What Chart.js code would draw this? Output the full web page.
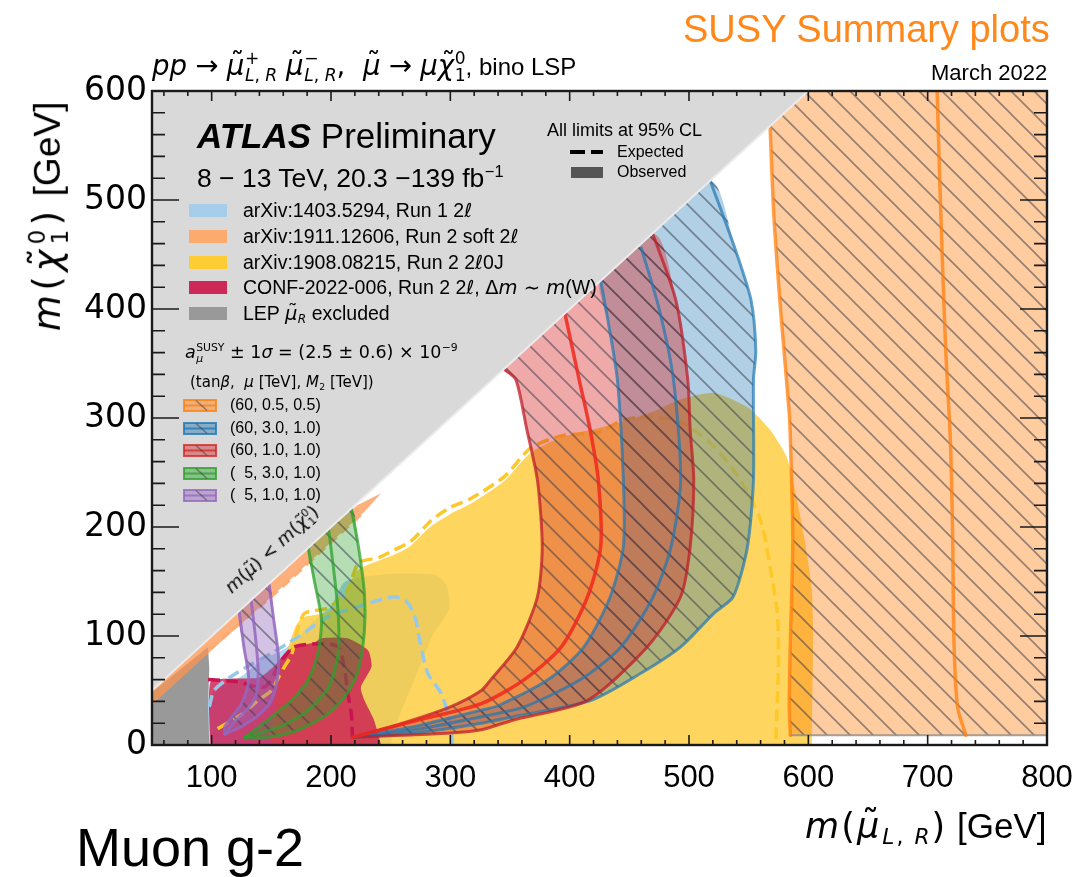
<!DOCTYPE html>
<html>
<head>
<meta charset="utf-8">
<title>SUSY Summary plots: Muon g-2</title>
<script src="https://cdn.jsdelivr.net/npm/chart.js@4.4.1/dist/chart.umd.min.js"></script>
<style>
  html, body { margin:0; padding:0; background:#fff; }
  #wrap { position:relative; width:1083px; height:877px; overflow:hidden;
          font-family:"Liberation Sans", Arial, Helvetica, sans-serif; color:#000; }
  #c { position:absolute; left:0; top:0; }
  .t { position:absolute; white-space:nowrap; line-height:1.15; }
  .m { font-family:"DejaVu Sans", sans-serif; font-style:normal; }
  .m i, i.m { font-style:oblique; }
  .rel { margin:0 0.3em; font-style:normal; }
  .ss { display:inline-block; vertical-align:-0.34em; line-height:1.0; font-size:0.62em; margin-left:0.04em; font-style:normal; }
  .ss > span { display:block; }
  .sb { font-size:0.62em; vertical-align:-0.28em; line-height:0; margin-left:0.04em; }
  .sp { font-size:0.62em; vertical-align:0.62em; line-height:0; margin-left:0.03em; }
  .tl { position:relative; display:inline-block; }
  .tl::after { content:"\02DC"; position:absolute; left:0.14em; right:0; text-align:center; top:-0.1em; font-style:normal; }
  .sw { position:absolute; }
</style>
</head>
<body>
<div id="wrap">
  <canvas id="c" width="1083" height="877"></canvas>
</div>
<script>
// ---------------- axes ----------------
const X_RANGE = [50, 800];
const Y_RANGE = [0, 600];
const X_TICKS = [100, 200, 300, 400, 500, 600, 700, 800];
const Y_TICKS = [0, 100, 200, 300, 400, 500, 600];
const X_MINOR = 20;
const Y_MINOR = 20;

// ---------------- excluded / observed regions [m(smuon), m(neutralino)] in GeV ----------------
const kinematicForbidden = [[40, 40], [700, 700], [40, 700]];
const kinematicEdge = [[50, 50], [600, 600]];
const lepExcluded = [[45, 0], [45, 44], [97, 90], [98, 70], [97, 35], [98, 0]];

const soft2lObs = [[45, 45], [150, 149], [200, 199], [222, 220], [242, 231], [228, 214], [200, 186], [150, 136], [100, 87], [45, 32]];
const soft2lExp = [[98, 88], [150, 136], [200, 186], [228, 214]];

const run1Obs = [[97, 0], [97, 42], [110, 55], [125, 63], [142, 78], [161, 88], [172, 98], [188, 116], [200, 127],
                 [212, 150], [250, 157], [288, 156], [297, 146], [299, 125], [285, 100], [270, 60], [255, 20], [250, 0]];
const run1Exp = [[98, 35], [102, 50], [114, 61], [130, 72], [150, 84], [172, 99], [198, 118], [223, 127], [253, 136],
                 [264, 131], [271, 115], [273, 103], [281, 66], [292, 48], [298, 29], [301, 11], [302, 0]];

const zeroJetObs = [[150, 0], [155, 50], [163, 85], [170, 108], [176, 117], [198, 122], [213, 138], [220, 158], [228, 164],
                    [252, 174], [266, 182], [283, 200], [300, 212], [318, 222], [345, 242], [367, 268], [395, 283],
                    [437, 294], [470, 306], [493, 317], [521, 323], [549, 310], [568, 289], [582, 264], [590, 228],
                    [597, 188], [603, 142], [604, 96], [603, 11], [603, 0]];
const zeroJetExp = [[105, 15], [125, 28], [139, 41], [150, 50], [156, 62], [161, 72], [167, 83], [172, 106], [178, 121],
                    [198, 126], [214, 142], [223, 167], [240, 172], [253, 179], [267, 187], [284, 206], [300, 218],
                    [317, 226], [345, 246], [368, 273], [395, 284], [424, 287], [445, 298], [465, 301], [493, 296],
                    [521, 274], [543, 243], [560, 206], [568, 163], [574, 121], [575, 75], [573, 11], [573, 0]];

const compressedObs = [[99, 0], [99, 58], [119, 61], [140, 62], [152, 72], [161, 84], [169, 90], [186, 94], [192, 98],
                       [214, 98], [231, 87], [234, 72], [225, 53], [228, 41], [236, 23], [242, 0]];
const compressedExp = [[97, 60], [122, 58], [144, 53], [156, 72], [161, 81], [169, 90], [192, 93], [206, 90], [211, 72],
                       [214, 48], [217, 29], [218, 7]];

// ---------------- g-2 preferred bands (left edge, central value, right edge) ----------------
// (tanβ, μ, M2) = (60, 0.5, 0.5)
const g2_60_05_05_lo  = [[585, 9], [584, 35], [585, 96], [587, 188], [585, 280], [584, 305], [577, 396], [571, 488], [568, 567], [567, 600]];
const g2_60_05_05_mid = [[732, 9], [725, 35], [722, 96], [721, 188], [719, 280], [715, 365], [711, 488], [708, 598], [708, 610]];
const g2_60_05_05_hi  = [[830, 640], [830, 9]];
const g2_60_05_05_floor = [[585, 9], [800, 9]];
// (60, 3.0, 1.0)
const g2_60_30_10_lo  = [[218, 7], [270, 17], [326, 32], [340, 36], [382, 60], [412, 90], [434, 136], [445, 182], [445, 243], [440, 335], [432, 390], [426, 426]];
const g2_60_30_10_mid = [[218, 7], [270, 14], [326, 26], [362, 35], [409, 60], [443, 90], [470, 136], [485, 182], [493, 243], [487, 335], [475, 400], [460, 456]];
const g2_60_30_10_hi  = [[218, 7], [270, 11], [326, 20], [353, 26], [418, 41], [460, 66], [493, 90], [521, 121], [537, 136], [549, 182],
                         [554, 243], [554, 335], [556, 362], [552, 408], [539, 454], [518, 517]];
// (60, 1.0, 1.0)
const g2_60_10_10_lo  = [[218, 7], [260, 20], [300, 35], [326, 50], [334, 60], [356, 90], [373, 136], [377, 182], [373, 243], [364, 290], [355, 335], [345, 345]];
const g2_60_10_10_mid = [[218, 7], [270, 22], [326, 38], [362, 60], [393, 90], [415, 136], [426, 182], [424, 243], [417, 290], [408, 335], [396, 396]];
const g2_60_10_10_hi  = [[218, 7], [260, 9], [300, 11], [326, 14], [353, 23], [415, 41], [465, 90], [493, 136], [501, 182], [504, 243], [501, 289], [499, 335], [489, 408], [470, 468]];
// (5, 3.0, 1.0)
const g2_5_30_10_lo  = [[128, 7], [147, 23], [167, 41], [181, 60], [189, 84], [192, 115], [186, 151], [181, 181]];
const g2_5_30_10_mid = [[128, 7], [158, 17], [181, 32], [198, 53], [206, 84], [206, 121], [202, 163], [198, 198]];
const g2_5_30_10_hi  = [[128, 7], [147, 7], [173, 14], [198, 29], [214, 48], [223, 69], [228, 105], [228, 139], [223, 182], [217, 217]];
// (5, 1.0, 1.0)
const g2_5_10_10_lo  = [[111, 10], [111, 17], [117, 26], [125, 38], [131, 60], [127, 90], [123, 123]];
const g2_5_10_10_mid = [[111, 10], [119, 21], [130, 33], [137, 45], [139, 66], [137, 96], [133, 133]];
const g2_5_10_10_hi  = [[111, 10], [125, 17], [140, 28], [150, 41], [155, 60], [156, 81], [152, 115], [148, 148]];

// ---------------- colours ----------------
const ORANGE = [255, 127, 14], BLUE = [31, 119, 180], RED = [214, 39, 40], GREEN = [44, 160, 44], PURPLE = [148, 103, 189];
const rgba = (c, a) => `rgba(${c[0]},${c[1]},${c[2]},${a})`;

const canvas = document.getElementById('c');
const ctx = canvas.getContext('2d');

// translucent fill with "\\" hatching
function hatch(c, a) {
  const s = 23;
  const tile = document.createElement('canvas');
  tile.width = s; tile.height = s;
  const g = tile.getContext('2d');
  g.fillStyle = rgba(c, a);
  g.fillRect(0, 0, s, s);
  g.strokeStyle = 'rgba(60,64,78,0.55)';
  g.lineWidth = 1.6;
  g.beginPath();
  g.moveTo(-3, -3); g.lineTo(s + 3, s + 3);
  g.moveTo(-3, s - 3); g.lineTo(3, s + 3);
  g.moveTo(s - 3, -3); g.lineTo(s + 3, 3);
  g.stroke();
  return ctx.createPattern(tile, 'repeat');
}

const pts = arr => arr.map(([x, y]) => ({ x, y }));
const layers = [];   // listed back to front
function area(arr, bg, tension = 0) {
  layers.push({ data: pts(arr), showLine: true, fill: 'shape', backgroundColor: bg,
    borderColor: 'rgba(0,0,0,0)', borderWidth: 0, pointRadius: 0, tension, clip: 0 });
}
function curve(arr, color, width, dash, tension = 0.25) {
  layers.push({ data: pts(arr), showLine: true, fill: false, borderColor: color, borderWidth: width,
    borderDash: dash || [], borderCapStyle: dash ? 'butt' : 'round', borderJoinStyle: 'round',
    pointRadius: 0, tension, clip: 0 });
}
const band = (lo, hi) => lo.concat(hi.slice().reverse());

// observed exclusions
area(run1Obs, 'rgba(150,200,235,0.75)', 0.2);
area(zeroJetObs, 'rgba(254,204,60,0.82)', 0.2);
area(compressedObs, 'rgba(204,31,82,0.82)', 0.2);
area(lepExcluded, '#999999');
area(soft2lObs, 'rgba(253,150,80,0.75)');
// expected limits
curve(run1Exp, 'rgba(150,200,235,1)', 3.5, [12, 6]);
curve(zeroJetExp, 'rgba(253,200,40,1)', 3.5, [12, 6]);
curve(compressedExp, 'rgba(200,20,80,1)', 3.5, [12, 6]);
curve(soft2lExp, 'rgba(253,170,110,0.9)', 3, [10, 6]);
// g-2 bands
area(g2_60_05_05_lo.concat(g2_60_05_05_hi), hatch(ORANGE, 0.4));
curve(g2_60_05_05_floor, 'rgba(140,140,140,0.8)', 2, null, 0);
curve(g2_60_05_05_lo, rgba(ORANGE, 0.75), 3.5);
curve(g2_60_05_05_mid, rgba(ORANGE, 0.75), 3.5);

area(band(g2_60_30_10_lo, g2_60_30_10_hi), hatch(BLUE, 0.35), 0.25);
area(band(g2_60_10_10_lo, g2_60_10_10_hi), hatch(RED, 0.4), 0.25);
curve(g2_60_30_10_lo, rgba(BLUE, 0.7), 3);
curve(g2_60_30_10_mid, rgba(BLUE, 0.7), 3);
curve(g2_60_30_10_hi, rgba(BLUE, 0.7), 3);
curve(g2_60_10_10_lo, 'rgba(190,30,40,0.75)', 3);
curve(g2_60_10_10_hi, 'rgba(190,30,40,0.75)', 3);
curve(g2_60_10_10_mid, 'rgba(240,40,30,0.85)', 3.5);

area(band(g2_5_30_10_lo, g2_5_30_10_hi), hatch(GREEN, 0.35), 0.25);
curve(g2_5_30_10_lo, rgba(GREEN, 0.75), 3);
curve(g2_5_30_10_mid, rgba(GREEN, 0.75), 3);
curve(g2_5_30_10_hi, rgba(GREEN, 0.75), 3);

area(band(g2_5_10_10_lo, g2_5_10_10_hi), hatch(PURPLE, 0.4), 0.25);
curve(g2_5_10_10_lo, rgba(PURPLE, 0.85), 3);
curve(g2_5_10_10_mid, rgba(PURPLE, 0.85), 3);
curve(g2_5_10_10_hi, rgba(PURPLE, 0.85), 3);

// m(smuon) < m(neutralino) region
area(kinematicForbidden, 'rgb(217,217,217)');
curve(kinematicEdge, 'rgba(236,236,236,1)', 2, null, 0);

// Chart.js draws lower "order" on top
const datasets = layers.map((d, i) => Object.assign(d, { order: layers.length - i }));

// inward ticks on all four sides plus the frame
const axisFrame = {
  id: 'axisFrame',
  afterDatasetsDraw(chart) {
    const { ctx: c, chartArea: a, scales: { x, y } } = chart;
    c.save();
    c.strokeStyle = '#1a1a1a';
    c.lineWidth = 1.6;
    c.beginPath();
    for (let v = Math.ceil(x.min / X_MINOR) * X_MINOR; v <= x.max; v += X_MINOR) {
      const len = X_TICKS.includes(v) ? 10 : 5;
      const p = x.getPixelForValue(v);
      c.moveTo(p, a.bottom); c.lineTo(p, a.bottom - len);
      c.moveTo(p, a.top); c.lineTo(p, a.top + len);
    }
    for (let v = Math.ceil(y.min / Y_MINOR) * Y_MINOR; v <= y.max; v += Y_MINOR) {
      const len = Y_TICKS.includes(v) ? 27 : 13;
      const p = y.getPixelForValue(v);
      c.moveTo(a.left, p); c.lineTo(a.left + len, p);
      c.moveTo(a.right, p); c.lineTo(a.right - len, p);
    }
    c.stroke();
    c.lineWidth = 2.4;
    c.strokeRect(a.left, a.top, a.right - a.left, a.bottom - a.top);
    c.restore();
  }
};

new Chart(ctx, {
  type: 'scatter',
  data: { datasets },
  options: {
    responsive: false, animation: false, devicePixelRatio: 1, events: [],
    layout: { padding: { top: 91, right: 36, left: 0, bottom: 0 } },
    plugins: { legend: { display: false }, tooltip: { enabled: false } },
    scales: {
      x: {
        type: 'linear', min: X_RANGE[0], max: X_RANGE[1],
        afterBuildTicks: s => { s.ticks = X_TICKS.map(v => ({ value: v })); },
        afterFit: s => { s.height = 132; s.paddingLeft = 0; s.paddingRight = 0; },
        grid: { display: false, drawTicks: false }, border: { display: false },
        ticks: { font: { family: 'Liberation Sans', size: 31 }, color: '#000', padding: 15, maxRotation: 0, autoSkip: false }
      },
      y: {
        type: 'linear', min: Y_RANGE[0], max: Y_RANGE[1],
        afterBuildTicks: s => { s.ticks = Y_TICKS.map(v => ({ value: v })); },
        afterFit: s => { s.width = 152; s.paddingTop = 0; s.paddingBottom = 0; },
        grid: { display: false, drawTicks: false }, border: { display: false },
        ticks: { font: { family: 'DejaVu Sans', size: 33 }, color: '#000', padding: 5, autoSkip: false }
      }
    }
  },
  plugins: [axisFrame]
});

// ---------------- text ----------------
const wrap = document.getElementById('wrap');
function marker() {
  const m = document.createElement('span');
  m.style.cssText = 'display:inline-block;width:0;height:0;vertical-align:baseline';
  return m;
}
function text(html, x, base, size, opt = {}) {
  const el = document.createElement('div');
  el.className = 't';
  el.innerHTML = html;
  el.style.fontSize = size + 'px';
  if (opt.color) el.style.color = opt.color;
  const m = marker();
  el.insertBefore(m, el.firstChild);
  el.style.left = '0px'; el.style.top = '0px';
  wrap.appendChild(el);
  const wr = wrap.getBoundingClientRect();
  const mr = m.getBoundingClientRect();
  const mx = mr.left - wr.left, my = mr.top - wr.top;
  if (opt.rotate) {
    el.style.transformOrigin = `${mx}px ${my}px`;
    el.style.left = (x - mx) + 'px';
    el.style.top = (base - my) + 'px';
    el.style.transform = `rotate(${opt.rotate}deg)`;
  } else {
    const left = opt.align === 'right' ? x - el.offsetWidth : x;
    el.style.left = left + 'px';
    el.style.top = (base - my) + 'px';
  }
  return el;
}
function box(x, y, w, h, css) {
  const d = document.createElement('div');
  d.className = 'sw';
  d.style.cssText += `left:${x}px;top:${y}px;width:${w}px;height:${h}px;${css}`;
  wrap.appendChild(d);
}
function hatchSwatch(x, y, c) {
  const w = 34, h = 13;
  const d = document.createElement('div');
  d.className = 'sw';
  d.style.cssText += `left:${x}px;top:${y}px;width:${w}px;height:${h}px;`;
  d.innerHTML = `<svg width="${w}" height="${h}" viewBox="0 0 ${w} ${h}">
    <rect x="1" y="1" width="${w - 2}" height="${h - 2}" fill="${rgba(c, 0.45)}" stroke="${rgba(c, 0.8)}" stroke-width="2"/>
    <line x1="1" y1="${h / 2}" x2="${w - 1}" y2="${h / 2}" stroke="${rgba(c, 0.75)}" stroke-width="2"/>
    <line x1="13" y1="1.5" x2="24" y2="${h - 1.5}" stroke="rgba(55,55,55,0.5)" stroke-width="1.4"/>
  </svg>`;
  wrap.appendChild(d);
}

const mu = '<i class="tl m">μ</i>';
const chi01 = '<i class="tl m">χ</i><span class="ss m"><span>0</span><span>1</span></span>';
const lr = '<i>L</i>, <i>R</i>';

text('SUSY Summary plots', 1050, 42, 38, { align: 'right', color: 'rgb(255,136,26)' });
text('March 2022', 1047, 80, 22, { align: 'right' });
text(`<span class="m" style="font-size:1.15em"><i>pp</i><span class="rel">→</span>${mu}<span class="ss"><span>+</span><span>${lr}</span></span>&nbsp;${mu}<span class="ss"><span>−</span><span>${lr}</span></span>,&nbsp;&nbsp;${mu}<span class="rel">→</span><i>μ</i>${chi01}</span>, bino LSP`, 152, 75, 24);
text(`<span class="m" style="letter-spacing:0.06em"><i>m</i>(${mu}<sub class="sb">${lr}</sub>)</span> [GeV]`, 1047, 838, 35, { align: 'right' });
text(`<span class="m" style="letter-spacing:0.12em"><i>m</i>(${chi01})</span> [GeV]`, 60, 331, 37, { rotate: -90 });
text('Muon g-2', 76, 866, 54);

text('<b><i>ATLAS</i></b> Preliminary', 197, 148, 35);
text('8 − 13 TeV, 20.3 −139 fb<sup class="sp">−1</sup>', 197, 187, 26.5);

const sourceLabels = [
  'arXiv:1403.5294, Run 1 2<i class="m">ℓ</i>',
  'arXiv:1911.12606, Run 2 soft 2<i class="m">ℓ</i>',
  'arXiv:1908.08215, Run 2 2<i class="m">ℓ</i>0J',
  'CONF-2022-006, Run 2 2<i class="m">ℓ</i>, <span class="m">Δ<i>m</i> ∼ <i>m</i></span>(W)',
  `LEP ${mu}<sub class="sb m"><i>R</i></sub> excluded`
];
const sourceColors = ['rgb(166,206,234)', 'rgb(253,170,110)', 'rgb(254,204,51)', 'rgb(204,41,88)', 'rgb(153,153,153)'];
const sourceBase = [217, 243, 269, 294, 320];
sourceLabels.forEach((s, i) => {
  box(189, sourceBase[i] - 13, 38, 13, `background:${sourceColors[i]};`);
  text(s, 243, sourceBase[i], 19.5);
});

text('All limits at 95% CL', 547, 136, 18);
box(570, 150, 15, 4, 'background:#000;');
box(591, 150, 12, 4, 'background:#000;');
text('Expected', 617, 157, 16);
box(571, 167, 32, 11, 'background:#555;');
text('Observed', 617, 177, 16);

text('<span class="m"><i>a</i><span class="ss"><span>SUSY</span><span><i>μ</i></span></span> ± 1<i>σ</i> = (2.5 ± 0.6) × 10<sup class="sp">−9</sup></span>', 185, 358, 17.5);
text('<span class="m">(tan<i>β</i>,&nbsp; <i>μ</i> [TeV], <i>M</i><sub class="sb">2</sub> [TeV])</span>', 190, 387, 15);

const g2Labels = ['(60, 0.5, 0.5)', '(60, 3.0, 1.0)', '(60, 1.0, 1.0)', '(&nbsp;&nbsp;5, 3.0, 1.0)', '(&nbsp;&nbsp;5, 1.0, 1.0)'];
const g2Colors = [ORANGE, BLUE, RED, GREEN, PURPLE];
const g2Base = [410, 433, 455, 478, 500];
g2Labels.forEach((s, i) => {
  hatchSwatch(183, g2Base[i] - 12, g2Colors[i]);
  text(s, 230, g2Base[i], 16);
});

text(`<span class="m"><i>m</i>(${mu}) &lt; <i>m</i>(${chi01})</span>`, 232, 594, 18, { rotate: -42.4 });
</script>
</body>
</html>
